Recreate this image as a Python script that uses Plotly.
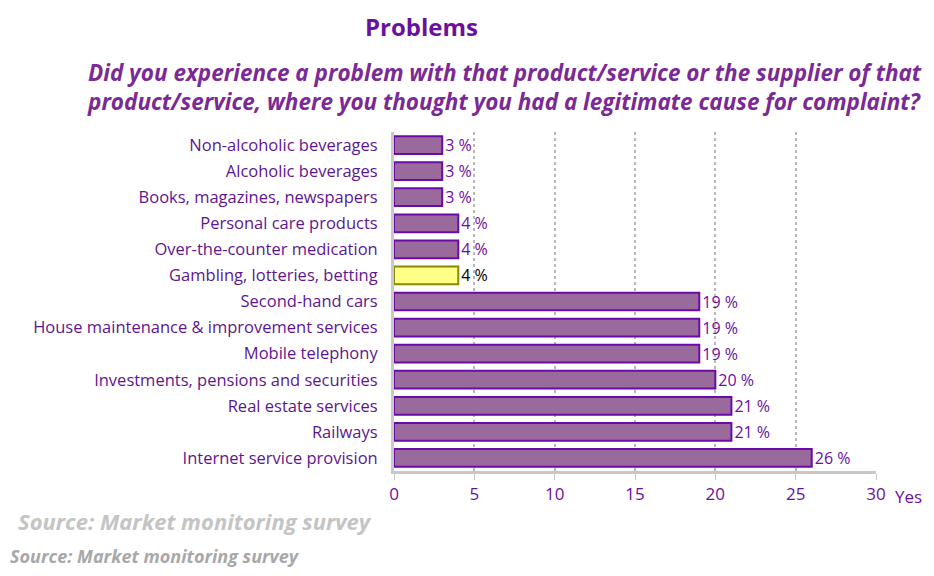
import plotly.graph_objects as go

categories = [
    "Non-alcoholic beverages",
    "Alcoholic beverages",
    "Books, magazines, newspapers",
    "Personal care products",
    "Over-the-counter medication",
    "Gambling, lotteries, betting",
    "Second-hand cars",
    "House maintenance & improvement services",
    "Mobile telephony",
    "Investments, pensions and securities",
    "Real estate services",
    "Railways",
    "Internet service provision",
]
values = [3, 3, 3, 4, 4, 4, 19, 19, 19, 20, 21, 21, 26]
highlight = "Gambling, lotteries, betting"
x_ticks = [0, 5, 10, 15, 20, 25, 30]

PURPLE = "#6b0f9e"
BAR = "#9a6a9c"
BAR_EDGE = "#6a0aa8"
YEL = "#ffff88"
YEL_EDGE = "#8a8a00"
FONT = "Open Sans"

W, H = 918, 560
OX, OY = 8, 8  # page offset of the figure


def px(x):
    return (x - OX) / W


def py(y):
    return 1 - (y - OY) / H


fill = [YEL if c == highlight else BAR for c in categories]
edge = [YEL_EDGE if c == highlight else BAR_EDGE for c in categories]
tcol = ["#000000" if c == highlight else PURPLE for c in categories]

fig = go.Figure()
fig.add_trace(go.Bar(
    y=categories, x=values, orientation="h",
    marker=dict(color=fill, line=dict(color=edge, width=2)),
    width=0.68,
    text=[f"{v} %" for v in values], textposition="outside",
    constraintext="none",
    textfont=dict(family=FONT, size=16, color=tcol),
    cliponaxis=False, hoverinfo="skip",
))

fig.update_layout(
    width=W, height=H, autosize=False,
    margin=dict(l=0, r=0, t=0, b=0, pad=0, autoexpand=False),
    paper_bgcolor="white", plot_bgcolor="white",
    showlegend=False,
    font=dict(family=FONT, color=PURPLE),
    xaxis=dict(
        domain=[px(394), px(876)], range=[0, 30], automargin=False,
        tickvals=x_ticks, ticktext=[str(t) for t in x_ticks],
        showgrid=True, gridcolor="#b8b8b8", griddash="dot", gridwidth=1.5,
        showline=True, linecolor="#c8c8c8", linewidth=3,
        ticks="outside", ticklen=6, tickcolor="#c8c8c8",
        tickfont=dict(family=FONT, size=17, color=PURPLE),
        zeroline=False, fixedrange=True,
    ),
    yaxis=dict(
        domain=[py(471), py(132)], automargin=False,
        autorange="reversed",
        showline=True, linecolor="#c8c8c8", linewidth=3,
        ticks="", ticklabelstandoff=10,
        tickfont=dict(family=FONT, size=16.5, color="#5e1690"),
        fixedrange=True,
    ),
    annotations=[
        dict(text="<b>Problems</b>", x=px(421), y=py(26), xref="paper", yref="paper",
             showarrow=False, font=dict(family=FONT, size=24, color=PURPLE),
             xanchor="center", yanchor="middle"),
        dict(text="<b><i>Did you experience a problem with that product/service or the supplier of that<br>product/service, where you thought you had a legitimate cause for complaint?</i></b>",
             x=px(924), y=py(87), xref="paper", yref="paper",
             showarrow=False, align="left",
             font=dict(family=FONT, size=22.5, color="#7a2a96"),
             xanchor="right", yanchor="middle"),
        dict(text="Yes", x=px(893), y=py(496), xref="paper", yref="paper",
             showarrow=False, font=dict(family=FONT, size=17, color=PURPLE),
             xanchor="left", yanchor="middle"),
        dict(text="<b><i>Source: Market monitoring survey</i></b>", x=px(16), y=py(521),
             xref="paper", yref="paper", showarrow=False,
             font=dict(family=FONT, size=22, color="#c4c4c4"),
             xanchor="left", yanchor="middle"),
        dict(text="<b><i>Source: Market monitoring survey</i></b>", x=px(8), y=py(556),
             xref="paper", yref="paper", showarrow=False,
             font=dict(family=FONT, size=18, color="#a8a8a8"),
             xanchor="left", yanchor="middle"),
    ],
)

fig.write_html("out.html")
